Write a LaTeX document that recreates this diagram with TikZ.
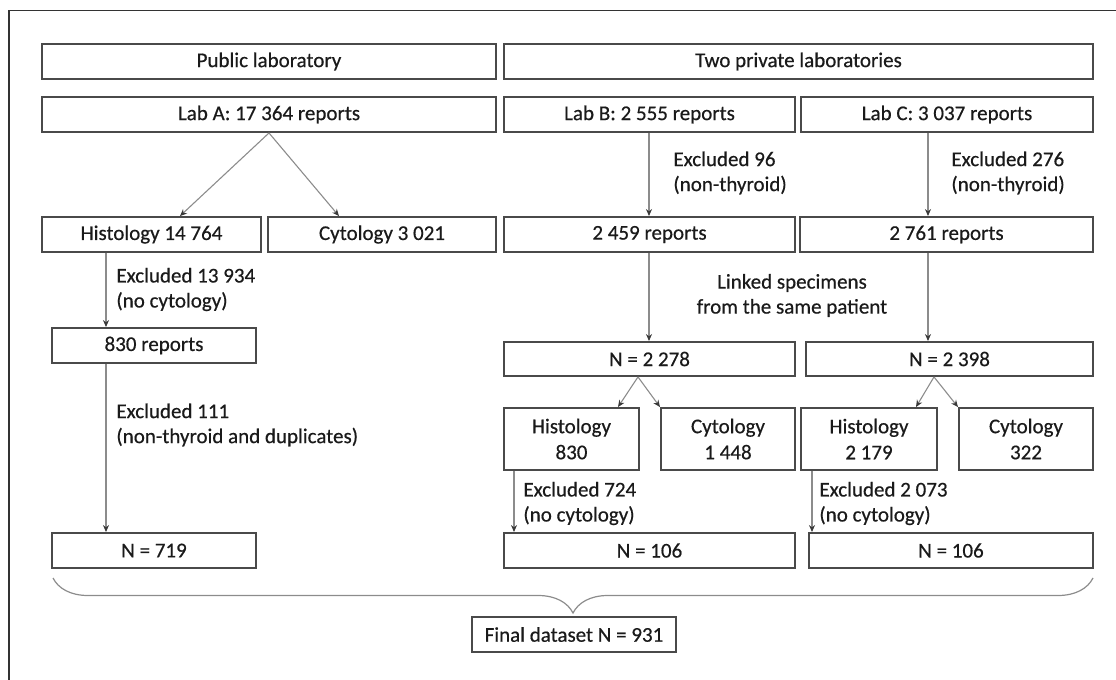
\documentclass[tikz,border=0pt]{standalone}
\usepackage{fontspec}
\setmainfont{Carlito}[FakeBold=0.5]
\usetikzlibrary{arrows.meta,decorations.pathreplacing}
\definecolor{boxc}{HTML}{4A4A4A}
\definecolor{txtc}{HTML}{1A1A1A}
\definecolor{arrc}{HTML}{8C8C8C}
\definecolor{tipc}{HTML}{3A3A3A}
\newcommand\mybox[6]{\node[box, minimum width={(#4-#2)*0.5pt}, minimum height={(#5-#3)*0.5pt}] (#1) at ({(#2+#4)/2},{(#3+#5)/2}) {#6};}
\begin{document}
\begin{tikzpicture}[x=0.5pt,y=-0.5pt,
  box/.style={draw=boxc, line width=0.95pt, inner sep=0pt, text=txtc, align=center,
    font=\fontsize{10.5pt}{13pt}\selectfont},
  lbl/.style={inner sep=0pt, text=txtc, align=left, anchor=west,
    font=\fontsize{10.5pt}{12.5pt}\selectfont},
  arr/.style={draw=arrc, line width=0.55pt, -{Stealth[length=3.5pt,width=3pt,color=tipc]}},
  bracestyle/.style={draw=arrc, line width=0.6pt, decorate,
    decoration={brace, mirror, amplitude=17.5pt}}]
\useasboundingbox (0,0) rectangle (1116,680);
% outer frame (partly cropped)
\draw[line width=0.8pt, black!80] (9,680) -- (9,10.5) -- (1116,10.5);

% boxes
\mybox{pub}{42}{44}{496}{79}{Public laboratory}
\mybox{priv}{504}{44}{1093}{79}{Two private laboratories}
\mybox{labA}{42}{97}{496}{132}{Lab A: 17 364 reports}
\mybox{labB}{504}{97}{795}{132}{Lab B: 2 555 reports}
\mybox{labC}{801}{97}{1093}{132}{Lab C: 3 037 reports}
\mybox{histA}{42}{217}{261}{252}{Histology 14 764}
\mybox{cytA}{268}{217}{496}{252}{Cytology 3 021}
\mybox{repB}{504}{217}{795}{252}{2 459 reports}
\mybox{repC}{800}{217}{1093}{252}{2 761 reports}
\mybox{repA}{52}{328}{256}{363}{830 reports}
\mybox{nB}{504}{342}{795}{376}{N = 2 278}
\mybox{nC}{806}{342}{1093}{376}{N = 2 398}
\mybox{histB}{504}{408}{639}{470}{Histology\\830}
\mybox{cytB}{661}{408}{795}{470}{Cytology\\1 448}
\mybox{histC}{801}{408}{937}{470}{Histology\\2 179}
\mybox{cytC}{959}{408}{1093}{470}{Cytology\\322}
\mybox{finA}{52}{533}{256}{568}{N = 719}
\mybox{finB}{504}{533}{795}{568}{N = 106}
\mybox{finC}{809}{533}{1093}{568}{N = 106}
\mybox{final}{472}{617}{676}{652}{Final dataset N = 931}

% helper x positions
\coordinate (xa1) at (180,0);
\coordinate (xa2) at (339,0);
\coordinate (xh) at (106,0);
\coordinate (xb) at (649,0);
\coordinate (xc) at (928,0);
\coordinate (xbv) at (638,0);
\coordinate (xb1) at (618,0);
\coordinate (xb2) at (660,0);
\coordinate (xcv) at (934,0);
\coordinate (xc1) at (916,0);
\coordinate (xc2) at (958,0);
\coordinate (xhb) at (514,0);
\coordinate (xhc) at (812,0);

% connectors
\draw[arr] (labA.south) -- (histA.north -| xa1);
\draw[arr] (labA.south) -- (cytA.north -| xa2);
\draw[arr] (histA.south -| xh) -- (repA.north -| xh);
\draw[arr] (repA.south -| xh) -- (finA.north -| xh);
\draw[arr] (labB.south -| xb) -- (repB.north -| xb);
\draw[arr] (labC.south -| xc) -- (repC.north -| xc);
\draw[arr] (repB.south -| xb) -- (nB.north -| xb);
\draw[arr] (repC.south -| xc) -- (nC.north -| xc);
\draw[arr] (nB.south -| xbv) -- (histB.north -| xb1);
\draw[arr] (nB.south -| xbv) -- (cytB.north -| xb2);
\draw[arr] (nC.south -| xcv) -- (histC.north -| xc1);
\draw[arr] (nC.south -| xcv) -- (cytC.north -| xc2);
\draw[arr] (histB.south -| xhb) -- (finB.north -| xhb);
\draw[arr] (histC.south -| xhc) -- (finC.north -| xhc);

% labels
\node[lbl] (l1) at (116,289.5) {Excluded 13 934\\(no cytology)};
\node[lbl] (l2) at (116,425) {Excluded 111\\(non-thyroid and duplicates)};
\node[lbl] (l3) at (673,173) {Excluded 96\\(non-thyroid)};
\node[lbl] (l4) at (951,173) {Excluded 276\\(non-thyroid)};
\node[lbl, anchor=center, align=center] (l5) at (792,295.5) {Linked specimens\\from the same patient};
\node[lbl] (l6) at (523,503.5) {Excluded 724\\(no cytology)};
\node[lbl] (l7) at (819,503.5) {Excluded 2 073\\(no cytology)};

% brace
\coordinate (bl) at (53,578);
\coordinate (br) at (1093,578);
\draw[bracestyle] (bl) -- (br);
\end{tikzpicture}
\end{document}
